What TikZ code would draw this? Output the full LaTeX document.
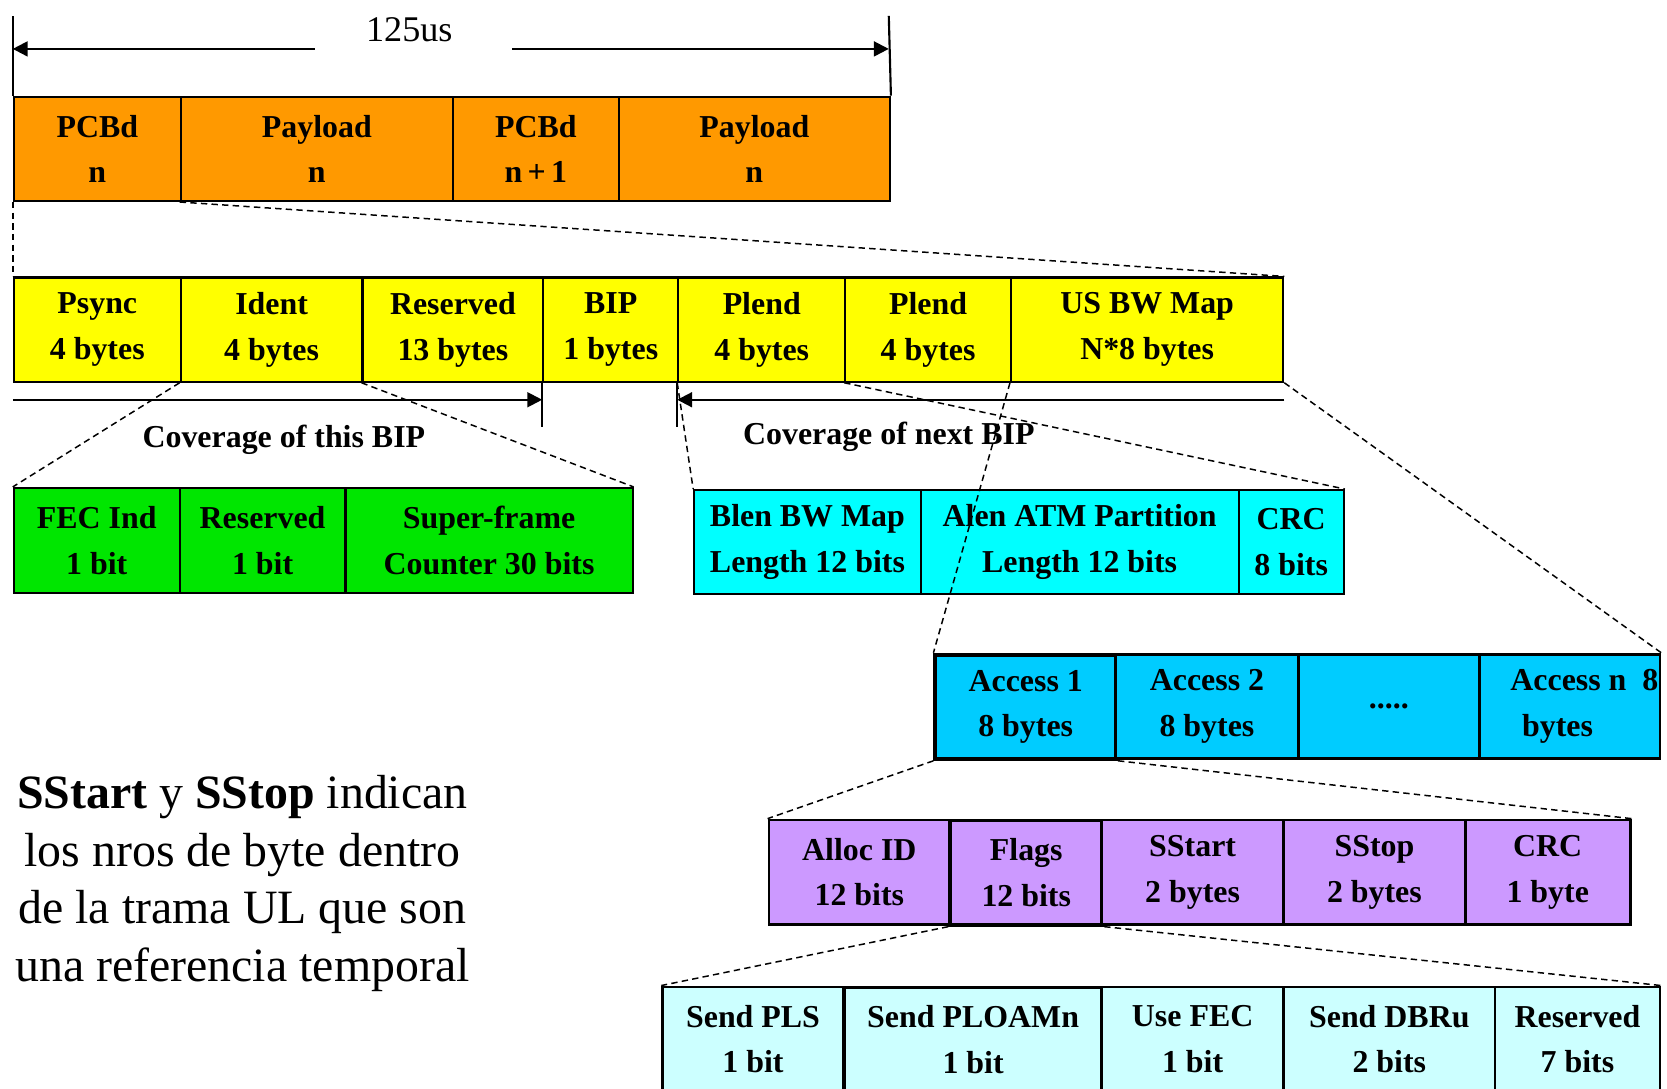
\documentclass[tikz,border=0pt]{standalone}
\usepackage{fontspec}
\setmainfont{Liberation Serif}
\usetikzlibrary{arrows.meta}
\definecolor{pcbOrange}{HTML}{FF9900}
\definecolor{hdrYellow}{HTML}{FFFF00}
\definecolor{bipGreen}{HTML}{00E600}
\definecolor{plenCyan}{HTML}{00FFFF}
\definecolor{accBlue}{HTML}{00CCFF}
\definecolor{allocViolet}{HTML}{CC99FF}
\definecolor{flagCyan}{HTML}{CCFFFF}

\begin{document}
\begin{tikzpicture}[x=0.5pt, y=-0.5pt, every node/.style={font=\fontsize{15}{21.5}\selectfont\bfseries}, >={Triangle[length=7pt, width=7pt]},
	fld/.style={draw, line width=1pt, anchor=north west, inner sep=0pt, minimum height=49pt, align=center},
	orng/.style={fld, fill=pcbOrange}, yelw/.style={fld, fill=hdrYellow}, grn/.style={fld, fill=bipGreen, minimum height=49.5pt},
	cyn/.style={fld, fill=plenCyan}, accb/.style={fld, fill=accBlue, line width=1.3pt}, viol/.style={fld, fill=allocViolet, line width=1.3pt},
	lcyn/.style={fld, fill=flagCyan, line width=1.3pt}, zoomln/.style={line width=0.7pt, dash pattern=on 3pt off 2pt}]
	\useasboundingbox (0,0) rectangle (1568,1024);
	% downstream frame
	\node[orng, minimum width=78.5pt] (pcb1) at (12,90) {PCBd\\n};
	\node[orng, minimum width=128pt] (pay1) at (169,90) {Payload\\n};
	\node[orng, minimum width=78pt] (pcb2) at (425,90) {PCBd\\n\,+\,1};
	\node[orng, minimum width=127.5pt] (pay2) at (581,90) {Payload\\n};
	\node[font=\fontsize{17}{20}\selectfont] (t125) at (385,28) {125us};
	\coordinate (tickL) at (12,15);
	\coordinate (tickR) at (836,15);
	\coordinate (gapL) at (296,46);
	\coordinate (gapR) at (482,46);
	\draw[line width=1pt] (pcb1.north west) -- (tickL);
	\draw[line width=1pt] (pay2.north east) -- (tickR);
	\draw[<-, line width=1pt] (tickL |- gapL) -- (gapL);
	\draw[->, line width=1pt] (gapR) -- (tickR |- gapR);
	% PCBd fields
	\node[yelw, minimum width=78.5pt] (psync) at (12,260) {Psync\\4 bytes};
	\node[yelw, minimum width=85.5pt] (ident) at (169,260) {Ident\\4 bytes};
	\node[yelw, minimum width=85pt] (rsv13) at (340,260) {Reserved\\13 bytes};
	\node[yelw, minimum width=63.5pt] (bip) at (510,260) {BIP\\1 bytes};
	\node[yelw, minimum width=78.5pt] (plend1) at (637,260) {Plend\\4 bytes};
	\node[yelw, minimum width=78pt] (plend2) at (794,260) {Plend\\4 bytes};
	\node[yelw, minimum width=128pt] (usbw) at (950,260) {US BW Map\\N*8 bytes};
	% BIP coverage
	\draw[->, line width=1pt] ([yshift=-8pt]psync.south west) -- ([yshift=-8pt]bip.south west);
	\draw[line width=1pt] (bip.south west) -- ++(0,42);
	\draw[->, line width=1pt] ([yshift=-8pt]usbw.south east) -- ([yshift=-8pt]plend1.south west);
	\draw[line width=1pt] (plend1.south west) -- ++(0,42);
	\node (covthis) at (267,414) {Coverage of this BIP};
	\node (covnext) at (836,411) {Coverage of next BIP};
	% Ident
	\node[grn, minimum width=78pt] (fec) at (12,458) {FEC Ind\\1 bit};
	\node[grn, minimum width=78pt] (rsv1) at (168,458) {Reserved\\1 bit};
	\node[grn, minimum width=135pt] (sfc) at (324,458) {Super-frame\\Counter 30 bits};
	% Plend
	\node[cyn, minimum width=106.5pt] (blen) at (652,460) {Blen BW Map\\Length 12 bits};
	\node[cyn, minimum width=149.5pt] (alen) at (865,460) {Alen ATM Partition\\Length 12 bits};
	\node[cyn, minimum width=49.5pt] (crc1) at (1164,460) {CRC\\8 bits};
	% US BW Map
	\node[accb, minimum width=85pt, line width=1.8pt] (acc1) at (878,614) {Access 1\\8 bytes};
	\node[accb, minimum width=86pt] (acc2) at (1048,614) {Access 2\\8 bytes};
	\node[accb, minimum width=85pt] (accd) at (1220,614) {.....};
	\node[accb, minimum width=85pt, align=left] (accn) at (1390,614) {\hspace*{14pt}Access n\ \ 8\\\hspace*{19.5pt}bytes};
	% access
	\node[viol, minimum width=85pt] (alloc) at (722,770) {Alloc ID\\12 bits};
	\node[viol, minimum width=71.5pt, line width=1.8pt] (flags) at (892,770) {Flags\\12 bits};
	\node[viol, minimum width=85.5pt] (sstart) at (1035,770) {SStart\\2 bytes};
	\node[viol, minimum width=85.5pt] (sstop) at (1206,770) {SStop\\2 bytes};
	\node[viol, minimum width=77.5pt] (crc2) at (1377,770) {CRC\\1 byte};
	% flags
	\node[lcyn, minimum width=85pt] (spls) at (622,927) {Send PLS\\1 bit};
	\node[lcyn, minimum width=121.5pt, line width=1.8pt] (sploam) at (792,927) {Send PLOAMn\\1 bit};
	\node[lcyn, minimum width=85.5pt] (usefec) at (1035,927) {Use FEC\\1 bit};
	\node[lcyn, minimum width=99.5pt] (sdbru) at (1206,927) {Send DBRu\\2 bits};
	\node[lcyn, minimum width=77.5pt] (rsv7) at (1405,927) {Reserved\\7 bits};
	% zoom lines
	\draw[zoomln] (pcb1.south west) -- (psync.north west);
	\draw[zoomln] (pay1.south west) -- (usbw.north east);
	\draw[zoomln] (ident.south west) -- (fec.north west);
	\draw[zoomln] (rsv13.south west) -- (sfc.north east);
	\draw[zoomln] (plend1.south west) -- (blen.north west);
	\draw[zoomln] (plend2.south west) -- (crc1.north east);
	\draw[zoomln] (usbw.south west) -- (acc1.north west);
	\draw[zoomln] (usbw.south east) -- (accn.north east);
	\draw[zoomln] (acc1.south west) -- (alloc.north west);
	\draw[zoomln] (acc1.south east) -- (crc2.north east);
	\draw[zoomln] (flags.south west) -- (spls.north west);
	\draw[zoomln] (flags.south east) -- (rsv7.north east);
	\node[font=\fontsize{22.5}{27}\selectfont, align=center] (note) at (228,831) {\textbf{SStart} y \textbf{SStop} indican\\los nros de byte dentro\\de la trama UL que son\\una referencia temporal};
\end{tikzpicture}
\end{document}
